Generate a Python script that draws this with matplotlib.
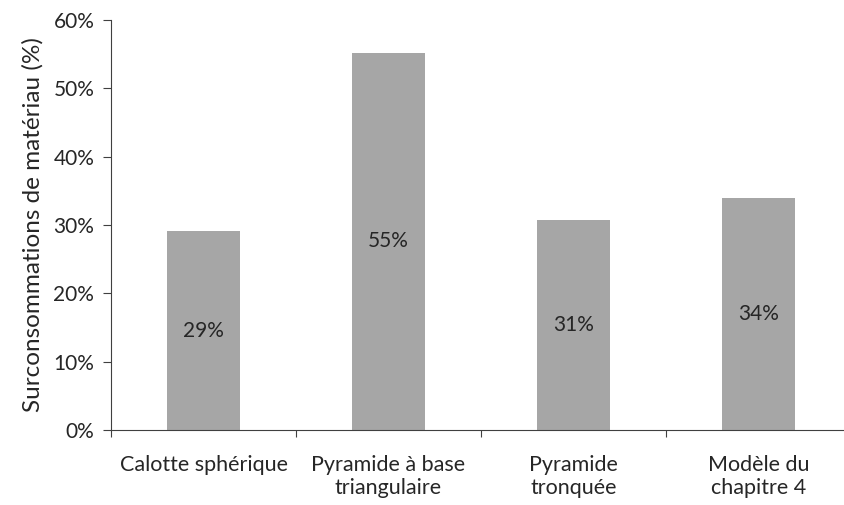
import matplotlib.pyplot as plt
from matplotlib.ticker import PercentFormatter

categories = ["Calotte sphérique", "Pyramide à base\ntriangulaire",
              "Pyramide\ntronquée", "Modèle du\nchapitre 4"]
values = [0.291, 0.552, 0.307, 0.340]
labels = ["29%", "55%", "31%", "34%"]

plt.rcParams['font.family'] = ['Lato', 'DejaVu Sans']
txt = '#262626'

fig = plt.figure(figsize=(8.44, 5.05), dpi=100)
ax = fig.add_axes([111/844, 75/505, 740/844, 410/505])

x = range(len(categories))
bars = ax.bar(x, values, width=0.39, color='#a6a6a6', edgecolor='none')
for b, lab in zip(bars, labels):
    ax.text(b.get_x() + b.get_width()/2, b.get_height()/2, lab,
            ha='center', va='center', fontsize=15, color=txt)

ax.set_xlim(-0.5, len(categories) - 0.5)
ax.set_ylim(0, 0.6)
ax.set_yticks([i/10 for i in range(7)])
ax.yaxis.set_major_formatter(PercentFormatter(1.0, decimals=0))

ax.set_xticks([i - 0.5 for i in range(len(categories) + 1)])
ax.set_xticklabels([])
ax.set_xticks(list(x), minor=True)
ax.set_xticklabels(categories, minor=True, fontsize=15.5, color=txt, linespacing=1.2)
ax.tick_params(axis='x', which='minor', length=0, pad=18)
ax.tick_params(axis='x', which='major', length=5, direction='out', color='#404040')
ax.tick_params(axis='y', length=6, direction='out', labelsize=15,
               labelcolor=txt, color='#404040', pad=6)

for s in ['top', 'right']:
    ax.spines[s].set_visible(False)
for s in ['left', 'bottom']:
    ax.spines[s].set_color('#404040')

ax.set_ylabel("Surconsommations de matériau (%)", fontsize=17.5, color=txt, labelpad=7)

fig.savefig('out.png', dpi=100)
